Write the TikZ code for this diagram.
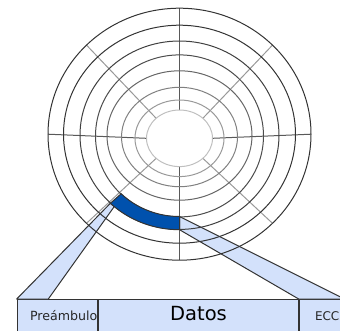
\documentclass[tikz,border=0pt]{standalone}
\usepackage{fontspec}
\setmainfont{DejaVu Sans}
\usetikzlibrary{positioning}
\definecolor{secblue}{HTML}{0051AD}
\definecolor{paleblue}{HTML}{D3E1FB}

\begin{document}
\begin{tikzpicture} [x=1pt, y=-1pt, line width=1pt,
  cell/.style={draw=black!80, fill=paleblue, minimum height=42pt, inner sep=0pt,
    text height=0pt, text depth=0pt, text=black!85, font=\fontsize{12.6}{14}\selectfont},
  wedge/.style={draw=black!80, fill=paleblue, line join=round}]
\useasboundingbox (0,0) rectangle (340,330);
\clip (0,0) rectangle (340,330);

% the sector as a bar
\node (pre) [cell, anchor=north west, minimum width=80.6pt, text width=79.6pt, align=right] at (16.7,299) {Preámbulo};
\node (datos) [cell, right=0pt of pre, minimum width=199.4pt, text=black, font=\fontsize{19.5}{22}\selectfont] {Datos};
\node (ecc) [cell, right=0pt of datos, minimum width=56pt, font=\fontsize{12}{14}\selectfont] {ECC};

% disk
\coordinate (c) at (179.5,135.5);
\coordinate (c1) at (179.5,134.2);
\coordinate (c8) at (179.5,138.3);
\coordinate (sA) at ([shift={(134:99.5 and 94.2)}]c);
\coordinate (sB) at ([shift={(131:99.5 and 94.2)}]c);
\coordinate (sC) at ([shift={(90:99.5 and 94.2)}]c);
\coordinate (sD) at ([shift={(90:84 and 81)}]c);
\coordinate (pL) at (48.3,299);
\coordinate (eR) at (344.6,299);

\filldraw[wedge] (pre.north west) -- (sA) -- (sB) -- (pL) -- cycle;
\filldraw[wedge] (sD) -- (eR) -- (ecc.north west) -- (sC) -- cycle;

\foreach \a/\k in {0/65,90/65,180/65,270/65,45/40,135/40,225/40,315/40}
  \draw[black!\k] ([shift={(\a:33 and 28.3)}]c8) -- ([shift={(\a:131.5 and 126)}]c1);
\foreach \cy/\rx/\ry/\k in {134.2/131.5/126/80, 134.2/116/109/80, 135.2/99.5/94.2/75,
    135.9/84/81/70, 135.5/72.5/64.7/60, 137/58/49.7/50, 138.3/44.5/38.3/40, 138.3/33/28.3/25}
  \draw[black!\k] (179.5,\cy) ellipse [x radius=\rx, y radius=\ry];

\filldraw[fill=secblue, draw=black!80] (sA) arc[start angle=134, end angle=90, x radius=99.5, y radius=94.2]
  -- (sD) arc[start angle=90, end angle=134, x radius=84, y radius=81] -- cycle;
\end{tikzpicture}
\end{document}
